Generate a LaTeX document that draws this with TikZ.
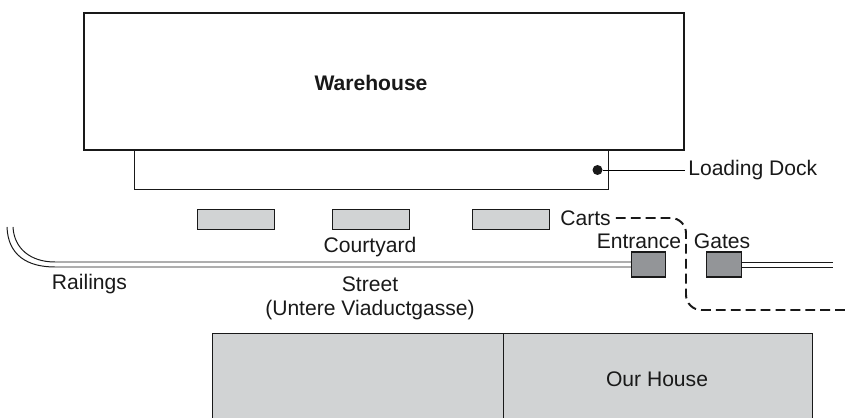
\documentclass[tikz,border=0pt]{standalone}
\usepackage{fontspec}
\setmainfont{Liberation Sans}
\usepackage{xcolor}
\usetikzlibrary{positioning,calc}
\definecolor{cartgray}{HTML}{D1D3D4}
\definecolor{gategray}{HTML}{939598}
\tikzset{
  lbl/.style={inner sep=0pt, font=\fontsize{15}{17}\selectfont, text=black!90},
  cartbox/.style={draw=black!90, line width=0.7pt, fill=cartgray, minimum width=1.925cm, minimum height=0.5cm, inner sep=0pt},
  gatebox/.style={draw=black!90, line width=0.9pt, fill=gategray, minimum width=0.86cm, minimum height=0.625cm, inner sep=0pt},
  rail/.style={line width=0.7pt, draw=black!90}
}
\begin{document}
\begin{tikzpicture}[x=0.025cm, y=-0.025cm]
  \useasboundingbox (0,0) rectangle (845,418);
  % building and dock
  \draw[line width=0.7pt, draw=black!90] (134,150) rectangle (608,189);
  \node[draw=black!90, line width=1.9pt, fill=white, minimum width=15cm, minimum height=3.425cm, inner sep=0pt] (warehouse) at (384,81.5) {};
  \node[lbl, font=\fontsize{15}{17}\selectfont\bfseries] (warehouselbl) at (371,83) {Warehouse};
  \node[circle, fill=black!90, minimum size=0.25cm, inner sep=0pt] (dock) at (597.5,170) {};
  \node[lbl, anchor=west] (docklbl) at (688,170) {Loading Dock};
  \draw[line width=0.7pt, shorten >=2pt] (dock) -- (docklbl);
  % carts
  \foreach \n/\x in {a/235.5, b/370.5, c/510.5}
    { \node[cartbox] (cart\n) at (\x,219) {}; }
  \node[lbl, anchor=west] (cartslbl) at (560,218) {Carts};
  % railings
  \coordinate (railA) at (7,227);
  \coordinate (railB) at (13,227);
  \draw[rail] (railA) .. controls (8,255) and (27,267) .. (55,267) -- (631,267);
  \draw[rail] (railB) .. controls (14,248) and (30,262) .. (55,262) -- (631,262);
  \draw[rail] (741,262) -- (833,262);
  \draw[rail] (741,267) -- (833,267);
  \node[gatebox] (gateL) at (648.5,264.5) {};
  \node[gatebox] (gateR) at (724,264.5) {};
  \node[lbl] (entrance) at (639,241) {Entrance};
  \node[lbl] (gates) at (722,241) {Gates};
  % route
  \coordinate (routeA) at (686,218);
  \coordinate (routeB) at (686,310);
  \coordinate (routeC) at (845,310);
  \draw[line width=1.4pt, dash pattern=on 7pt off 3.6pt, rounded corners=0.38cm, draw=black!90] (cartslbl.east)+(3.5pt,0) -- (routeA) -- (routeB) -- (routeC);
  % labels
  \node[lbl] (courtyard) at (370,247) {Courtyard};
  \node[lbl] (street) at (370,284) {Street};
  \node[lbl] (viaduct) at (370,310) {(Untere Viaductgasse)};
  \node[lbl] (railings) at (89.5,284) {Railings};
  % house
  \fill[cartgray] (212,333) rectangle (812,418);
  \draw[line width=0.7pt, draw=black!90] (212,418) -- (212,333) -- (812,333) -- (812,418);
  \draw[line width=0.7pt, draw=black!90] (503,333) -- (503,418);
  \node[lbl] (house) at (657,379) {Our House};
\end{tikzpicture}
\end{document}
